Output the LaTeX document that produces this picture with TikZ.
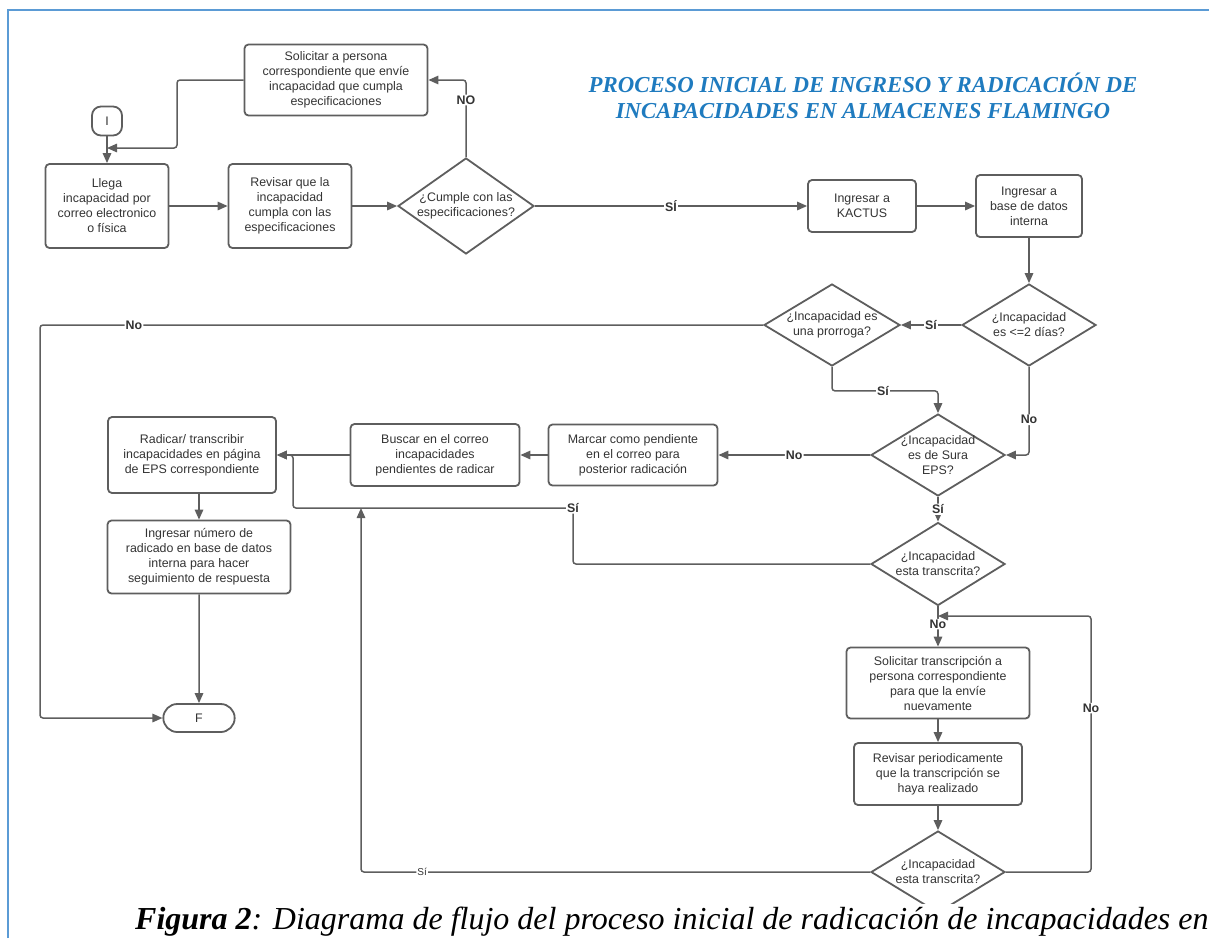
\documentclass[tikz,border=0pt]{standalone}
\usepackage{fontspec}
\setmainfont{Liberation Serif}
\setsansfont{Liberation Sans}
\usetikzlibrary{shapes.geometric,shapes.misc,arrows.meta}

\definecolor{linegray}{HTML}{5E5E5E}
\definecolor{txtgray}{HTML}{333333}
\definecolor{titleblue}{HTML}{1F7BBF}
\definecolor{frameblue}{HTML}{5B9BD5}
\newcommand{\boxfont}{\sffamily\fontsize{12.4}{15}\selectfont}

\begin{document}
\begin{tikzpicture}[
    x=1pt, y=-1pt,
    process/.style={rectangle, draw=linegray, line width=1.8pt, rounded corners=4pt, text=txtgray, font=\boxfont, align=center, inner sep=2pt},
    decision/.style={diamond, draw=linegray, line width=1.8pt, inner sep=0pt, minimum width=134pt, minimum height=82pt},
    qtext/.style={align=center, font=\boxfont, text=txtgray, inner sep=0pt},
    terminal/.style={rounded rectangle, draw=linegray, line width=1.8pt, font=\boxfont, text=txtgray, minimum height=28pt},
    arrow/.style={-{Triangle[length=10pt,width=8.5pt]}, draw=linegray, line width=1.5pt, rounded corners=3pt},
    lbl/.style={font=\boxfont\bfseries, text=txtgray, fill=white, inner sep=1pt}
]
\useasboundingbox (0,0) rectangle (1209,938);

% Marco
\draw[frameblue, line width=2pt] (8,938) -- (8,10) -- (1209,10);

% Titulo
\node[font=\fontsize{22.8}{26}\selectfont\bfseries\itshape, text=titleblue, align=center] (titulo) at (863,96) {PROCESO INICIAL DE INGRESO Y RADICACIÓN DE\\INCAPACIDADES EN ALMACENES FLAMINGO};

% Inicio y recepcion
\node[process, rounded corners=9pt, minimum width=30pt, minimum height=29pt, inner sep=0pt] (inicio) at (107,121) {I};
\node[process, minimum width=123pt, minimum height=84pt] (llega) at (107,206) {Llega\\incapacidad por\\correo electronico\\o física};
\node[process, minimum width=123pt, minimum height=84pt] (revisar) at (290,206) {Revisar que la\\incapacidad\\cumpla con las\\especificaciones};
\node[decision, minimum width=136pt, minimum height=96pt, label={[qtext]center:{¿Cumple con las\\especificaciones?}}] (cumple) at (466,206) {};
\node[process, minimum width=183pt, minimum height=71pt] (solicitar) at (336,80) {Solicitar a persona\\correspondiente que envíe\\incapacidad que cumpla\\especificaciones};
\node[process, minimum width=108pt, minimum height=52pt] (kactus) at (862,206) {Ingresar a\\KACTUS};
\node[process, minimum width=106pt, minimum height=62pt] (basedatos) at (1029,206) {Ingresar a\\base de datos\\interna};

% Decisiones
\node[decision, label={[qtext]center:{¿Incapacidad\\es <=2 días?}}] (dias) at (1029,325) {};
\node[decision, minimum width=136pt, label={[qtext]center:{¿Incapacidad es\\una prorroga?}}] (prorroga) at (832,325) {};
\node[decision, label={[qtext]center:{¿Incapacidad\\es de Sura\\EPS?}}] (sura) at (938,455) {};

% Radicacion
\node[process, minimum width=169pt, minimum height=61pt] (marcar) at (633,455) {Marcar como pendiente\\en el correo para\\posterior radicación};
\node[process, minimum width=169pt, minimum height=62pt] (buscar) at (435,455) {Buscar en el correo\\incapacidades\\pendientes de radicar};
\node[process, minimum width=168pt, minimum height=76pt] (radicar) at (192,455) {Radicar/ transcribir\\incapacidades en página\\de EPS correspondiente};
\node[process, minimum width=183pt, minimum height=73pt] (numero) at (199,557) {Ingresar número de\\radicado en base de datos\\interna para hacer\\seguimiento de respuesta};
\node[terminal, minimum width=78pt] (fin) at (199,718) {F};

% Transcripcion
\node[decision, minimum height=83pt, label={[qtext]center:{¿Incapacidad\\esta transcrita?}}] (transcrita) at (938,564) {};
\node[process, minimum width=183pt, minimum height=71pt] (soltrans) at (938,683) {Solicitar transcripción a\\persona correspondiente\\para que la envíe\\nuevamente};
\node[process, minimum width=168pt, minimum height=62pt] (periodico) at (938,774) {Revisar periodicamente\\que la transcripción se\\haya realizado};
\node[decision, label={[qtext]center:{¿Incapacidad\\esta transcrita?}}] (transcrita2) at (938,872) {};

% Puntos de union
\coordinate (entrada) at (107,148);
\coordinate (carril) at (40,325);
\coordinate (giro) at (573,508);
\coordinate (union) at (293,508);
\coordinate (subida) at (361,508);
\coordinate (retorno) at (938,616);

% Flechas
\draw[arrow] (inicio) -- (llega);
\draw[arrow] (solicitar.west) -| ([xshift=70pt]entrada) -- (entrada);
\draw[arrow] (llega) -- (revisar);
\draw[arrow] (revisar) -- (cumple);
\draw[arrow] (cumple.north) |- node[lbl, pos=0.37]{NO} (solicitar.east);
\draw[arrow] (cumple) -- node[lbl]{SÍ} (kactus);
\draw[arrow] (kactus) -- (basedatos);
\draw[arrow] (basedatos) -- (dias);
\draw[arrow] (dias) -- node[lbl]{Sí} (prorroga);
\draw[arrow] (prorroga.west) -- node[lbl, pos=0.87]{No} (carril) |- (fin.west);
\draw[arrow] (prorroga.south) -- ++(0,24) -| node[lbl, pos=0.24]{Sí} (sura.north);
\draw[arrow] (dias.south) |- node[lbl, pos=0.3]{No} (sura.east);
\draw[arrow] (sura) -- node[lbl]{No} (marcar);
\draw[arrow] (marcar) -- (buscar);
\draw[arrow] (buscar) -- (radicar);
\draw[arrow] (sura) -- node[lbl]{Sí} (transcrita);
\draw[arrow] (transcrita.west) -| (giro) node[lbl]{Sí} -- (union) |- (radicar.east);
\draw[arrow] (radicar.south -| numero.north) -- (numero.north);
\draw[arrow] (numero) -- (fin);
\draw[arrow] (transcrita) -- node[lbl, pos=0.44]{No} (soltrans);
\draw[arrow] (soltrans) -- (periodico);
\draw[arrow] (periodico) -- (transcrita2);
\draw[arrow] (transcrita2.east) -| node[lbl, pos=0.82]{No} ([xshift=153pt]retorno) -- (retorno);
\draw[arrow] (transcrita2.west) -| node[lbl, pos=0.44, font=\sffamily\fontsize{10}{12}\selectfont]{Sí} (subida);

% Pie de figura
\node[anchor=base west, fill=white, inner sep=2pt, font=\fontsize{32}{36}\selectfont\itshape] (pie) at (133,929) {\textbf{Figura 2}: Diagrama de flujo del proceso inicial de radicación de incapacidades en};
\end{tikzpicture}
\end{document}
